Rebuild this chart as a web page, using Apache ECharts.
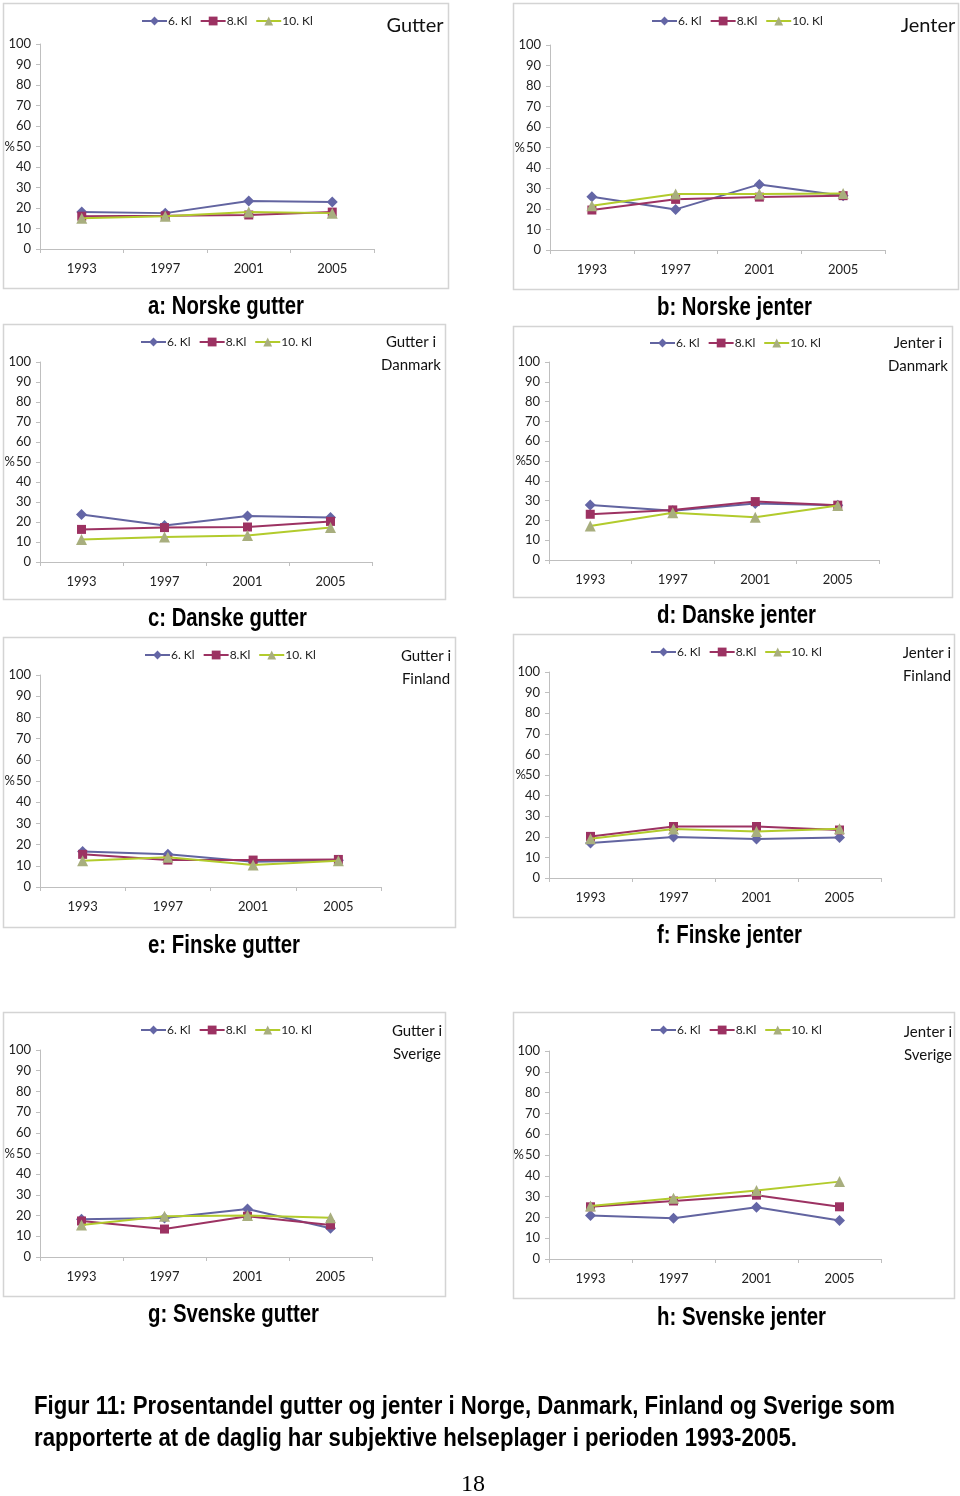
<!DOCTYPE html>
<html><head><meta charset="utf-8">
<script src="https://cdn.jsdelivr.net/npm/echarts@6/dist/echarts.min.js"></script>
<style>html,body{margin:0;padding:0;background:#fff}#c{width:960px;height:1496px}</style>
</head><body><div id="c"></div>
<script>
const years = ['1993','1997','2001','2005'];
const seriesNames = ['6. Kl','8.Kl','10. Kl'];
const yTicks = [0,10,20,30,40,50,60,70,80,90,100];

// a: Norske gutter
const a6 = [18.0, 17.5, 23.4, 22.9];
const a8 = [16.0, 16.2, 16.6, 18.0];
const a10 = [15.0, 16.0, 18.0, 17.5];
// b: Norske jenter
const b6 = [26.0, 19.8, 32.0, 26.5];
const b8 = [19.5, 24.7, 25.8, 26.5];
const b10 = [21.6, 27.3, 27.3, 27.6];
// c: Danske gutter
const c6 = [23.8, 18.3, 23.0, 22.2];
const c8 = [16.3, 17.2, 17.5, 20.3];
const c10 = [11.3, 12.5, 13.3, 17.2];
// d: Danske jenter
const d6 = [27.8, 24.9, 28.5, 27.7];
const d8 = [23.1, 25.3, 29.5, 27.7];
const d10 = [17.2, 23.9, 21.6, 27.5];
// e: Finske gutter
const e6 = [16.8, 15.4, 11.9, 12.6];
const e8 = [15.4, 12.7, 12.7, 13.0];
const e10 = [12.4, 14.0, 10.4, 12.4];
// f: Finske jenter
const f6 = [17.0, 19.9, 18.9, 19.7];
const f8 = [20.2, 25.0, 25.0, 23.3];
const f10 = [19.1, 23.8, 22.6, 23.9];
// g: Svenske gutter
const g6 = [18.2, 18.8, 23.2, 13.9];
const g8 = [17.4, 13.5, 19.7, 15.5];
const g10 = [15.5, 19.7, 20.1, 19.0];
// h: Svenske jenter
const h6 = [20.9, 19.6, 24.9, 18.5];
const h8 = [25.1, 27.9, 30.7, 25.1];
const h10 = [25.5, 29.2, 32.9, 37.2];

const panelData = [[a6,a8,a10],[b6,b8,b10],[c6,c8,c10],[d6,d8,d10],[e6,e8,e10],[f6,f8,f10],[g6,g8,g10],[h6,h8,h10]];
const captions = ['a: Norske gutter','b: Norske jenter','c: Danske gutter','d: Danske jenter','e: Finske gutter','f: Finske jenter','g: Svenske gutter','h: Svenske jenter'];
const sideTitles = ['Gutter','Jenter','Gutter i\nDanmark','Jenter i\nDanmark','Gutter i\nFinland','Jenter i\nFinland','Gutter i\nSverige','Jenter i\nSverige'];
const figLines = ['Figur 11: Prosentandel gutter og jenter i Norge, Danmark, Finland og Sverige som',
                  'rapporterte at de daglig har subjektive helseplager i perioden 1993-2005.'];

// layout
const grids = [
  {left:40, top:44, width:334, height:205},
  {left:550, top:45, width:335, height:205},
  {left:40, top:362, width:332, height:200},
  {left:549, top:362, width:330, height:198},
  {left:40, top:675, width:341, height:212},
  {left:549, top:672, width:332, height:206},
  {left:40, top:1050, width:332, height:207},
  {left:549, top:1051, width:332, height:208}
];
const nameGaps = [25,25,25,23,25,23,25,25];
const boxes = [
  [3,3,445,285],[513,3,445,286],[3,324,442,275],[513,326,439,271],
  [3,637,452,290],[513,634,441,283],[3,1012,442,284],[513,1012,441,286]
];
const legendPos = [[141,15],[651,15],[140,336],[649,337],[144,649],[650,646],[140,1024],[650,1024]];
const titlePos = [[415,26,20],[928,26,20],[411,354,15],[918,355,15],[426,668,15],[927,665,15],[417,1043,15],[928,1044,15]];
// [x, y, targetWidth]
const capPos = [[148,307,156],[657,308,155],[148,619,159],[657,616,159],[148,946,152],[657,936,145],[148,1315,171],[657,1318,169]];
const figPos = [[34,1407,861],[34,1439,763]];

const colors = ['#6264A0','#9C3262','#B2CB2C'];
const markerColors = ['#6466A6','#9C3262','#A8AE7E'];
const symbols = ['diamond','rect','triangle'];
const symSizes = [11,9,11];
const FONT = 'Lato, "Open Sans", sans-serif';
const BOLDFONT = '"Liberation Sans", Arial, sans-serif';

const mctx = document.createElement('canvas').getContext('2d');
function measure(text, size){ mctx.font = 'bold ' + size + 'px ' + BOLDFONT; return mctx.measureText(text).width; }

const option = {
  animation:false,
  backgroundColor:'#fff',
  grid: grids.map(g=>Object.assign({containLabel:false, outerBoundsMode:'none'}, g)),
  xAxis: grids.map((g,i)=>({
    type:'category', gridIndex:i, data:years, boundaryGap:true,
    axisLine:{show:true, lineStyle:{color:'#BFBFBF', width:1}},
    axisTick:{show:true, alignWithLabel:false, length:4, lineStyle:{color:'#BFBFBF'}},
    axisLabel:{color:'#222', fontSize:13, fontFamily:FONT, margin:13},
    splitLine:{show:false}
  })),
  yAxis: grids.map((g,i)=>({
    type:'value', gridIndex:i, min:yTicks[0], max:yTicks[yTicks.length-1], interval:10,
    name:'%', nameLocation:'middle', nameRotate:0, nameGap:nameGaps[i], nameMoveOverlap:false,
    nameTextStyle:{color:'#222', fontSize:13, fontFamily:FONT, align:'right'},
    axisLine:{show:true, lineStyle:{color:'#BFBFBF', width:1}},
    axisTick:{show:true, length:4, lineStyle:{color:'#BFBFBF'}},
    axisLabel:{color:'#222', fontSize:13, fontFamily:FONT, margin:9},
    splitLine:{show:false}
  })),
  legend: legendPos.map(p=>({
    left:p[0], top:p[1], padding:0, orient:'horizontal', itemWidth:25, itemHeight:11, itemGap:8,
    data:seriesNames, selectedMode:false,
    textStyle:{color:'#222', fontSize:12, fontFamily:FONT, padding:[0,0,0,-4]}
  })),
  series: [],
  graphic: []
};

panelData.forEach((pd,i)=>{
  pd.forEach((vals,k)=>{
    option.series.push({
      type:'line', name:seriesNames[k], xAxisIndex:i, yAxisIndex:i, data:vals,
      symbol:symbols[k], symbolSize:symSizes[k], showSymbol:true,
      lineStyle:{color:colors[k], width:2},
      itemStyle:{color:markerColors[k], borderWidth:0},
      emphasis:{disabled:true}, z:2+k
    });
  });
});

boxes.forEach(b=>{
  option.graphic.push({type:'rect', shape:{x:b[0]+0.5,y:b[1]+0.5,width:b[2],height:b[3]},
    style:{fill:'none', stroke:'#D4D4D4', lineWidth:1.5}, silent:true, z:-1});
});
sideTitles.forEach((t,i)=>{
  const p = titlePos[i];
  option.graphic.push({type:'text', x:p[0], y:p[1], silent:true,
    style:{text:t, fontSize:p[2], fontFamily:FONT, fill:'#111', align:'center', verticalAlign:'middle', lineHeight:23}});
});
function narrowText(text, p, size){
  const w = measure(text, size);
  return {type:'text', x:p[0], y:p[1], scaleX:p[2]/w, silent:true,
    style:{text:text, fontSize:size, fontWeight:'bold', fontFamily:BOLDFONT, fill:'#000', align:'left', verticalAlign:'middle'}};
}
captions.forEach((t,i)=>{ option.graphic.push(narrowText(t, capPos[i], 25)); });
figLines.forEach((t,i)=>{ option.graphic.push(narrowText(t, figPos[i], 26)); });
option.graphic.push({type:'text', x:473, y:1485, silent:true,
  style:{text:'18', fontSize:24, fontFamily:'"Liberation Serif", "DejaVu Serif", serif', fill:'#000', align:'center', verticalAlign:'middle'}});

const chart = echarts.init(document.getElementById('c'), null, {renderer:'canvas'});
chart.setOption(option);
</script>
</body></html>
